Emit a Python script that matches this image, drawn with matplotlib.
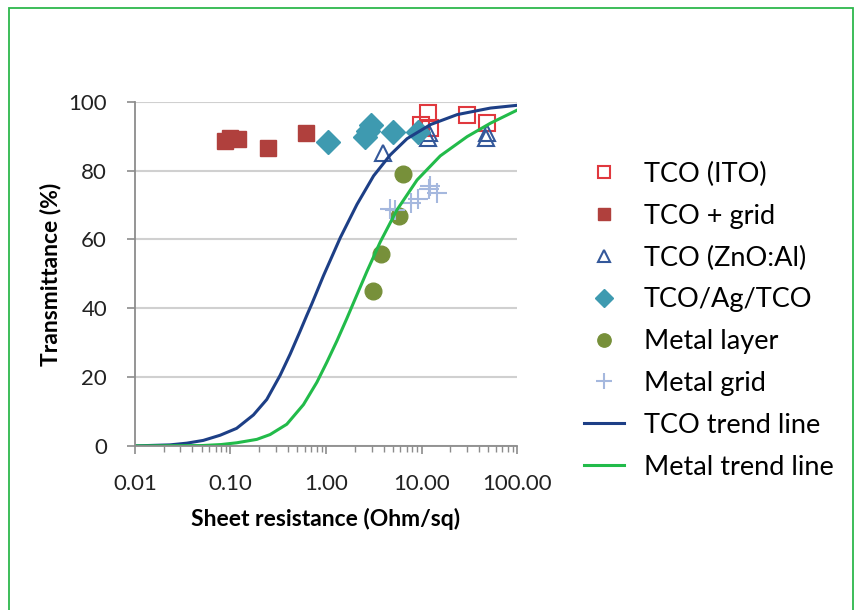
import matplotlib
matplotlib.use("Agg")
import matplotlib.pyplot as plt
from matplotlib.ticker import FixedLocator, LogLocator, FuncFormatter, NullFormatter
from matplotlib.patches import Rectangle

plt.rcParams['font.family'] = ['Lato', 'DejaVu Sans']

# measured points, sheet resistance (Ohm/sq) vs transmittance (%)
ito_r = [9.8, 11.6, 12.2, 29.7, 48.0]
ito_t = [93.3, 96.7, 92.4, 96.2, 93.8]

grid_r = [0.088, 0.10, 0.12, 0.25, 0.62]
grid_t = [88.5, 89.5, 89.2, 86.6, 91.0]

zno_r = [3.96, 11.6, 12.0, 47.0, 48.0]
zno_t = [85.0, 89.5, 91.0, 89.5, 91.0]

agtco_r = [1.04, 2.54, 2.73, 2.93, 4.99, 9.12]
agtco_t = [88.4, 89.8, 91.6, 93.2, 91.3, 91.3]

layer_r = [3.1, 3.8, 5.8, 6.4]
layer_t = [44.9, 55.8, 66.7, 79.1]

mgrid_r = [4.64, 5.24, 7.84, 9.2, 12.0, 12.4, 14.4]
mgrid_t = [68.8, 68.6, 70.6, 71.7, 74.6, 75.6, 73.5]

# trend lines
tco_line_r = [0.01, 0.0233, 0.035, 0.052, 0.078, 0.116, 0.174, 0.24, 0.331, 0.422, 0.537,
              0.631, 0.711, 0.942, 1.41, 2.11, 3.15, 4.71, 7.05, 12.4, 23.6, 52.6, 100.0]
tco_line_t = [0.0, 0.3, 0.8, 1.6, 3.1, 5.1, 9.0, 13.5, 20.5, 26.7, 33.4,
              38.0, 41.3, 49.5, 60.5, 70.2, 78.5, 84.6, 89.3, 93.4, 96.3, 98.2, 99.0]

metal_line_r = [0.01, 0.05, 0.08, 0.116, 0.189, 0.26, 0.389, 0.581, 0.803, 1.02, 1.30,
                1.65, 1.9, 2.68, 3.70, 5.53, 8.98, 15.7, 30.0, 52.6, 100.0]
metal_line_t = [0.0, 0.1, 0.4, 0.9, 1.9, 3.3, 6.3, 12.0, 18.5, 24.3, 30.5,
                37.0, 41.0, 50.7, 59.3, 68.6, 77.3, 84.3, 89.9, 93.8, 97.6]

fig = plt.figure(figsize=(8.59, 6.10), dpi=100)
ax = fig.add_axes([0.157, 0.269, 0.445, 0.564])

ax.plot(ito_r, ito_t, 's', ms=11, mfc='none', mec='#E0383E', mew=1.5, label='TCO (ITO)')
ax.plot(grid_r, grid_t, 's', ms=11, color='#B0403D', label='TCO + grid')
ax.plot(zno_r, zno_t, '^', ms=11, mfc='none', mec='#34589A', mew=1.5, label='TCO (ZnO:Al)')
ax.plot(agtco_r, agtco_t, 'D', ms=12, color='#3E9AB0', label='TCO/Ag/TCO')
ax.plot(layer_r, layer_t, 'o', ms=12, color='#77903A', label='Metal layer')
ax.plot(mgrid_r, mgrid_t, '+', ms=14, mew=1.5, color='#A5B8DE', label='Metal grid')
ax.plot(tco_line_r, tco_line_t, '-', lw=2.2, color='#1D3F86', label='TCO trend line')
ax.plot(metal_line_r, metal_line_t, '-', lw=2.2, color='#22BB4A', label='Metal trend line')

ax.set_xscale('log')
ax.set_xlim(0.01, 100)
ax.set_ylim(0, 100)
ax.xaxis.set_major_locator(FixedLocator([0.01, 0.1, 1, 10, 100]))
ax.xaxis.set_major_formatter(FuncFormatter(lambda v, p: '%.2f' % v))
ax.xaxis.set_minor_locator(LogLocator(base=10, subs=range(2, 10)))
ax.xaxis.set_minor_formatter(NullFormatter())
ax.set_yticks([0, 20, 40, 60, 80, 100])

for s in ['top', 'right']:
    ax.spines[s].set_visible(False)
for s in ['left', 'bottom']:
    ax.spines[s].set_color('#8C8C8C')
    ax.spines[s].set_linewidth(1.3)
ax.yaxis.grid(True, color='#D0D0D0', lw=1.5)
ax.set_axisbelow(True)
ax.tick_params(axis='both', which='major', colors='#8C8C8C', labelcolor='#222222',
               labelsize=16, length=6, width=1.2, direction='out')
ax.tick_params(axis='x', which='minor', colors='#8C8C8C', length=4, width=1.0, direction='out')
ax.tick_params(axis='x', pad=14)
ax.tick_params(axis='y', pad=14)

ax.set_xlabel('Sheet resistance (Ohm/sq)', fontsize=16.5, fontweight='bold', labelpad=10)
ax.set_ylabel('Transmittance (%)', fontsize=16.5, fontweight='bold', labelpad=5)

fig.legend(loc='upper left', bbox_to_anchor=(0.664, 0.757), frameon=False, fontsize=19.5,
           handlelength=1.48, handletextpad=0.74, labelspacing=0.62, borderpad=0,
           markerscale=0.8)

# thin green frame around the picture
fig.patches.append(Rectangle((9 / 859, -0.01), 844 / 859, 1 - 8 / 610 + 0.01,
                             transform=fig.transFigure, fill=False,
                             edgecolor='#2DB84C', lw=1.3))

fig.savefig('out.png', dpi=100)
